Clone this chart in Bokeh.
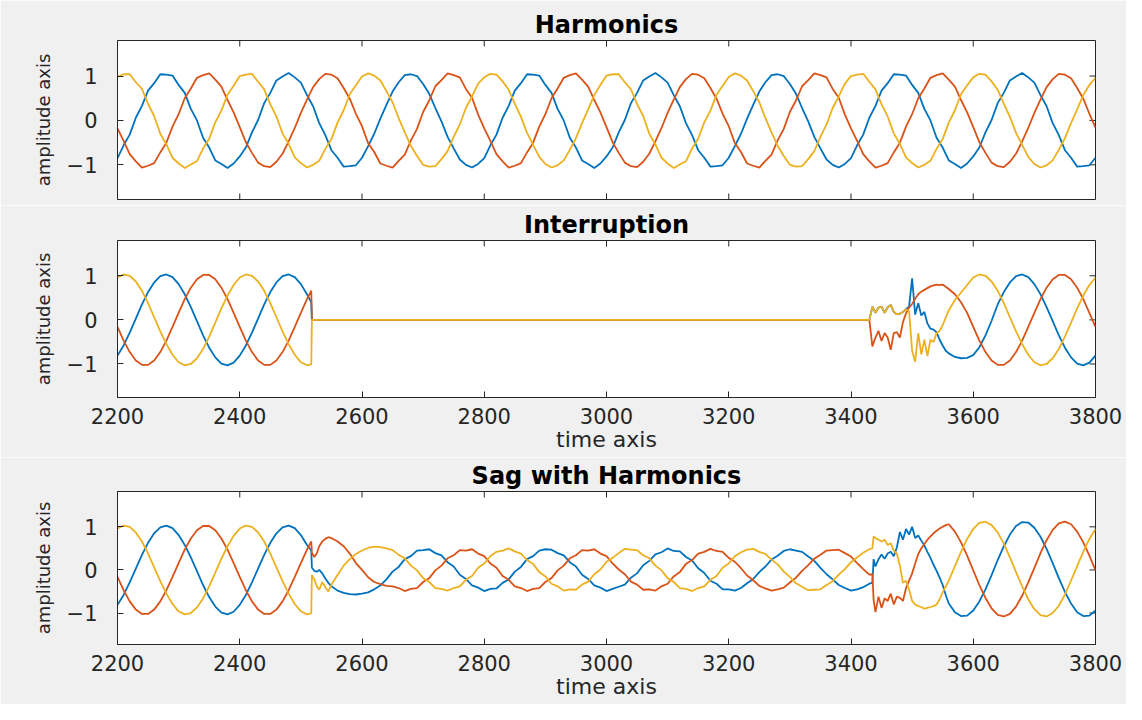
import math
from bokeh.plotting import figure
from bokeh.layouts import column
from bokeh.models import Range1d, FixedTicker
from bokeh.embed import file_html
from bokeh.resources import INLINE

# ---------------- data ----------------
x_ticks = [2200, 2400, 2600, 2800, 3000, 3200, 3400, 3600, 3800]
y_ticks = [-1, 0, 1]

# Panel 1: Harmonics (sampled every 10)
t_harm = list(range(2200, 3801, 10))
harm_blue = [
    -0.85, -0.56, -0.32, 0.06, 0.33, 0.67, 0.84, 1.04, 1.03, 1.01, 0.80, 0.62, 0.26, 0.00, -0.39, -0.61, -0.90, -0.98, -1.07, -0.97,
    -0.81, -0.61, -0.27, 0.01, 0.39, 0.62, 0.90, 0.99, 1.07, 0.97, 0.85, 0.57, 0.32, -0.06, -0.33, -0.67, -0.84, -1.04, -1.03, -1.01,
    -0.84, -0.58, -0.30, 0.04, 0.35, 0.65, 0.86, 1.02, 1.04, 1.00, 0.82, 0.60, 0.28, -0.02, -0.37, -0.63, -0.88, -1.00, -1.06, -0.98,
    -0.85, -0.56, -0.32, 0.06, 0.33, 0.67, 0.84, 1.04, 1.03, 1.01, 0.80, 0.62, 0.26, 0.00, -0.39, -0.61, -0.90, -0.98, -1.07, -0.97,
    -0.81, -0.61, -0.27, 0.01, 0.39, 0.62, 0.90, 0.99, 1.07, 0.97, 0.85, 0.57, 0.32, -0.06, -0.33, -0.67, -0.84, -1.04, -1.03, -1.01,
    -0.84, -0.58, -0.30, 0.04, 0.35, 0.65, 0.86, 1.02, 1.04, 1.00, 0.82, 0.60, 0.28, -0.02, -0.37, -0.63, -0.88, -1.00, -1.06, -0.98,
    -0.85, -0.56, -0.32, 0.06, 0.33, 0.67, 0.84, 1.04, 1.03, 1.01, 0.80, 0.62, 0.26, 0.00, -0.39, -0.61, -0.90, -0.98, -1.07, -0.97,
    -0.81, -0.61, -0.27, 0.01, 0.39, 0.62, 0.90, 0.99, 1.07, 0.97, 0.85, 0.57, 0.32, -0.06, -0.33, -0.67, -0.84, -1.04, -1.03, -1.01,
    -0.84,
]
harm_red = [
    -0.18, -0.46, -0.76, -0.92, -1.06, -1.02, -0.96, -0.72, -0.50, -0.14, 0.14, 0.50, 0.72, 0.96, 1.02, 1.06, 0.92, 0.76, 0.46, 0.18,
    -0.15, -0.49, -0.73, -0.95, -1.03, -1.05, -0.93, -0.75, -0.47, -0.17, 0.17, 0.47, 0.75, 0.93, 1.05, 1.03, 0.95, 0.73, 0.49, 0.15,
    -0.13, -0.51, -0.71, -0.97, -1.02, -1.06, -0.91, -0.77, -0.45, -0.19, 0.19, 0.45, 0.77, 0.91, 1.06, 1.02, 0.97, 0.71, 0.51, 0.13,
    -0.18, -0.46, -0.76, -0.92, -1.06, -1.02, -0.96, -0.72, -0.50, -0.14, 0.14, 0.50, 0.72, 0.96, 1.02, 1.06, 0.92, 0.76, 0.46, 0.18,
    -0.15, -0.49, -0.73, -0.95, -1.03, -1.05, -0.93, -0.75, -0.47, -0.17, 0.17, 0.47, 0.75, 0.93, 1.05, 1.03, 0.95, 0.73, 0.49, 0.15,
    -0.13, -0.51, -0.71, -0.97, -1.02, -1.06, -0.91, -0.77, -0.45, -0.19, 0.19, 0.45, 0.77, 0.91, 1.06, 1.02, 0.97, 0.71, 0.51, 0.13,
    -0.18, -0.46, -0.76, -0.92, -1.06, -1.02, -0.96, -0.72, -0.50, -0.14, 0.14, 0.50, 0.72, 0.96, 1.02, 1.06, 0.92, 0.76, 0.46, 0.18,
    -0.15, -0.49, -0.73, -0.95, -1.03, -1.05, -0.93, -0.75, -0.47, -0.17, 0.17, 0.47, 0.75, 0.93, 1.05, 1.03, 0.95, 0.73, 0.49, 0.15,
    -0.16,
]
harm_yellow = [
    0.98, 1.04, 1.04, 0.86, 0.71, 0.37, 0.10, -0.30, -0.54, -0.84, -0.97, -1.07, -0.99, -0.92, -0.63, -0.41, -0.04, 0.22, 0.58, 0.78,
    1.00, 1.03, 1.05, 0.87, 0.70, 0.36, 0.09, -0.29, -0.53, -0.83, -0.96, -1.06, -1.00, -0.91, -0.64, -0.42, -0.05, 0.23, 0.59, 0.79,
    0.99, 1.06, 1.01, 0.90, 0.66, 0.41, 0.05, -0.27, -0.57, -0.80, -1.00, -1.04, -1.03, -0.87, -0.69, -0.37, -0.09, 0.28, 0.54, 0.83,
    0.97, 1.05, 1.03, 0.88, 0.69, 0.38, 0.08, -0.28, -0.55, -0.82, -0.98, -1.06, -1.01, -0.90, -0.66, -0.40, -0.06, 0.25, 0.57, 0.80,
    1.01, 1.04, 1.04, 0.86, 0.70, 0.37, 0.10, -0.30, -0.54, -0.84, -0.97, -1.07, -0.99, -0.92, -0.63, -0.41, -0.04, 0.22, 0.58, 0.78,
    0.98, 1.06, 1.01, 0.90, 0.66, 0.41, 0.05, -0.27, -0.57, -0.80, -1.00, -1.04, -1.03, -0.87, -0.69, -0.37, -0.09, 0.28, 0.54, 0.83,
    1.00, 1.03, 1.05, 0.87, 0.70, 0.36, 0.09, -0.29, -0.53, -0.83, -0.96, -1.06, -1.00, -0.91, -0.64, -0.42, -0.05, 0.23, 0.59, 0.79,
    0.97, 1.05, 1.03, 0.88, 0.69, 0.38, 0.08, -0.28, -0.55, -0.82, -0.98, -1.06, -1.01, -0.90, -0.66, -0.40, -0.06, 0.25, 0.57, 0.80,
    0.96,
]

# Panel 2: Interruption
t_int = list(range(2200, 2511, 10)) + [2517, 2518, 3430] + list(range(3435, 3556, 5)) + list(range(3560, 3801, 10))
int_blue = [
    -0.81, -0.58, -0.29, 0.03, 0.35, 0.63, 0.85, 0.99, 1.03, 0.97, 0.81, 0.58, 0.29, -0.03, -0.35, -0.63, -0.85, -0.99, -1.03, -0.97,
    -0.81, -0.58, -0.29, 0.03, 0.35, 0.63, 0.85, 0.99, 1.03, 0.97, 0.81, 0.58,
    0.40, 0.0, 0.0,
    0.30, 0.16, 0.28, 0.30, 0.16, 0.28, 0.34, 0.18, 0.13, 0.14, 0.18, 0.24,
    0.30, 0.94, 0.12, 0.38, 0.10, 0.18, -0.08, -0.20, -0.22, -0.28, -0.45, -0.58, -0.70,
    -0.76, -0.84, -0.87, -0.86, -0.80, -0.62, -0.35, -0.02, 0.35, 0.63, 0.85, 0.99, 1.03, 0.97, 0.81, 0.58,
    0.29, -0.03, -0.35, -0.63, -0.85, -0.99, -1.03, -0.97, -0.81,
]
int_red = [
    -0.16, -0.47, -0.73, -0.92, -1.02, -1.02, -0.92, -0.73, -0.47, -0.16, 0.16, 0.47, 0.73, 0.92, 1.02, 1.02, 0.92, 0.73, 0.47, 0.16,
    -0.16, -0.47, -0.73, -0.92, -1.02, -1.02, -0.92, -0.73, -0.47, -0.16, 0.16, 0.47,
    0.66, 0.0, 0.0,
    -0.60, -0.40, -0.25, -0.48, -0.30, -0.40, -0.68, -0.30, -0.28, -0.40, -0.05, 0.15, 0.28,
    0.36, 0.48, 0.58, 0.64, 0.68, 0.72, 0.76, 0.78, 0.80, 0.79, 0.80, 0.75,
    0.70, 0.58, 0.40, 0.16, -0.16, -0.47, -0.73, -0.92, -1.02, -1.02, -0.92, -0.73, -0.47, -0.16, 0.16, 0.47,
    0.73, 0.92, 1.02, 1.02, 0.92, 0.73, 0.47, 0.16, -0.16,
]
int_yellow = [
    0.96, 1.03, 1.00, 0.87, 0.66, 0.38, 0.06, -0.26, -0.55, -0.79, -0.96, -1.03, -1.00, -0.87, -0.66, -0.38, -0.06, 0.26, 0.55, 0.79,
    0.96, 1.03, 1.00, 0.87, 0.66, 0.38, 0.06, -0.26, -0.55, -0.79, -0.96, -1.03,
    -1.01, 0.0, 0.0,
    0.30, 0.16, 0.28, 0.30, 0.16, 0.28, 0.34, 0.18, 0.13, 0.14, 0.18, 0.24, 0.20,
    -0.70, -0.95, -0.30, -0.78, -0.45, -0.82, -0.45, -0.50, -0.30, -0.25, -0.12, 0.05,
    0.22, 0.45, 0.62, 0.79, 0.96, 1.03, 1.00, 0.87, 0.66, 0.38, 0.06, -0.26, -0.55, -0.79, -0.96, -1.03,
    -1.00, -0.87, -0.66, -0.38, -0.06, 0.26, 0.55, 0.79, 0.96,
]

# Panel 3: Sag with Harmonics
t_sag = (list(range(2200, 2511, 10)) + [2517, 2518, 2522, 2526, 2530, 2535, 2540, 2545]
         + list(range(2550, 3431, 10)) + [3435, 3437] + list(range(3440, 3556, 5))
         + list(range(3560, 3801, 10)))
sag_blue = [
    -0.81, -0.58, -0.29, 0.03, 0.35, 0.63, 0.85, 0.99, 1.03, 0.97, 0.81, 0.58, 0.29, -0.03, -0.35, -0.63, -0.85, -0.99, -1.03, -0.97,
    -0.81, -0.58, -0.29, 0.03, 0.35, 0.63, 0.85, 0.99, 1.03, 0.97, 0.81, 0.58,
    0.45, 0.05, -0.02, -0.04, 0.00, -0.08, -0.20, -0.30,
    -0.38, -0.48, -0.53, -0.56, -0.57, -0.55, -0.52, -0.45, -0.36, -0.22,
    -0.04, 0.07, 0.25, 0.32, 0.45, 0.46, 0.48, 0.39, 0.34, 0.18, 0.08, -0.11, -0.21, -0.36, -0.41, -0.49, -0.44,
    -0.43, -0.30, -0.22, -0.04, 0.07, 0.25, 0.32, 0.45, 0.48, 0.47, 0.39, 0.34, 0.18, 0.08, -0.11, -0.21, -0.36, -0.41, -0.49, -0.44,
    -0.39, -0.34, -0.18, -0.08, 0.11, 0.21, 0.36, 0.41, 0.50, 0.44, 0.43, 0.30, 0.22, 0.04, -0.07, -0.25, -0.32, -0.45, -0.45, -0.48,
    -0.42, -0.31, -0.21, -0.05, 0.08, 0.24, 0.33, 0.44, 0.48, 0.45, 0.42, 0.31, 0.21, 0.05, -0.10, -0.22, -0.35, -0.42, -0.48, -0.45,
    -0.40, -0.32,
    -0.30, 0.25,
    0.08, 0.25, 0.36, 0.26, 0.38, 0.42, 0.32, 0.52, 0.88, 0.70, 0.95, 0.82, 1.00, 0.74, 0.80, 0.68, 0.57, 0.42, 0.28, 0.12,
    -0.02, -0.18, -0.35, -0.58,
    -0.78, -0.98, -1.07, -1.06, -0.94, -0.73, -0.45, -0.12, 0.23, 0.55, 0.82, 1.02, 1.11, 1.10, 0.98, 0.77, 0.49, 0.16, -0.19, -0.51,
    -0.78, -0.98, -1.07, -1.06, -0.94,
]
sag_red = [
    -0.16, -0.47, -0.73, -0.92, -1.02, -1.02, -0.92, -0.73, -0.47, -0.16, 0.16, 0.47, 0.73, 0.92, 1.02, 1.02, 0.92, 0.73, 0.47, 0.16,
    -0.16, -0.47, -0.73, -0.92, -1.02, -1.02, -0.92, -0.73, -0.47, -0.16, 0.16, 0.47,
    0.66, 0.40, 0.30, 0.38, 0.55, 0.66, 0.72, 0.76,
    0.74, 0.66, 0.55, 0.38, 0.16, 0.00, -0.17, -0.28, -0.33, -0.37,
    -0.38, -0.42, -0.49, -0.44, -0.42, -0.28, -0.19, -0.01, 0.10, 0.27, 0.34, 0.46, 0.45, 0.48, 0.38, 0.32, 0.15,
    0.05, -0.14, -0.23, -0.38, -0.42, -0.49, -0.44, -0.42, -0.28, -0.19, -0.01, 0.10, 0.27, 0.34, 0.46, 0.45, 0.48, 0.38, 0.32, 0.15,
    0.01, -0.10, -0.27, -0.34, -0.46, -0.45, -0.48, -0.38, -0.32, -0.15, -0.05, 0.14, 0.23, 0.38, 0.42, 0.49, 0.44, 0.42, 0.28, 0.19,
    0.04, -0.13, -0.24, -0.37, -0.43, -0.48, -0.45, -0.41, -0.29, -0.18, -0.02, 0.11, 0.26, 0.35, 0.45, 0.46, 0.47, 0.39, 0.31, 0.16,
    0.02, -0.11,
    -0.10, -0.70,
    -0.98, -0.62, -0.88, -0.66, -0.72, -0.55, -0.80, -0.62, -0.65, -0.72, -0.42, -0.25, -0.08, 0.15, 0.37, 0.50, 0.60, 0.70, 0.78, 0.85,
    0.91, 0.96, 1.00, 1.04,
    1.06, 0.89, 0.64, 0.33, -0.01, -0.35, -0.65, -0.89, -1.04, -1.08, -1.02, -0.85, -0.60, -0.29, 0.05, 0.39, 0.69, 0.93, 1.08, 1.12,
    1.06, 0.89, 0.64, 0.33, -0.01,
]
sag_yellow = [
    0.96, 1.03, 1.00, 0.87, 0.66, 0.38, 0.06, -0.26, -0.55, -0.79, -0.96, -1.03, -1.00, -0.87, -0.66, -0.38, -0.06, 0.26, 0.55, 0.79,
    0.96, 1.03, 1.00, 0.87, 0.66, 0.38, 0.06, -0.26, -0.55, -0.79, -0.96, -1.03,
    -1.01, -0.12, -0.22, -0.38, -0.46, -0.28, -0.40, -0.50,
    -0.34, -0.12, 0.10, 0.25, 0.37, 0.45, 0.51, 0.54, 0.53, 0.50,
    0.46, 0.35, 0.27, 0.10, -0.01, -0.19, -0.28, -0.42, -0.44, -0.48, -0.42, -0.38, -0.23, -0.14, 0.05, 0.15, 0.32,
    0.42, 0.45, 0.50, 0.43, 0.38, 0.23, 0.14, -0.05, -0.15, -0.32, -0.38, -0.48, -0.45, -0.46, -0.34, -0.27, -0.10, 0.01, 0.19, 0.28,
    0.39, 0.49, 0.47, 0.46, 0.34, 0.27, 0.10, -0.01, -0.19, -0.28, -0.42, -0.44, -0.49, -0.42, -0.38, -0.23, -0.14, 0.05, 0.15, 0.32,
    0.41, 0.47, 0.49, 0.42, 0.37, 0.24, 0.13, -0.04, -0.16, -0.31, -0.39, -0.47, -0.46, -0.45, -0.35, -0.26, -0.11, 0.02, 0.18, 0.29,
    0.40, 0.48,
    0.50, 0.78,
    0.74, 0.70, 0.66, 0.70, 0.58, 0.62, 0.45, 0.38, 0.10, -0.30, -0.25, -0.45, -0.72, -0.80, -0.84, -0.86, -0.90, -0.88, -0.86, -0.84,
    -0.80, -0.68, -0.52, -0.38,
    -0.25, 0.09, 0.42, 0.72, 0.95, 1.09, 1.12, 1.04, 0.87, 0.61, 0.29, -0.05, -0.38, -0.68, -0.91, -1.05, -1.08, -1.00, -0.83, -0.57,
    -0.25, 0.09, 0.42, 0.72, 0.95,
]

for t, series in ((t_harm, (harm_blue, harm_red, harm_yellow)),
                  (t_int, (int_blue, int_red, int_yellow)),
                  (t_sag, (sag_blue, sag_red, sag_yellow))):
    for s in series:
        assert len(s) == len(t), (len(s), len(t))

# ---------------- styling ----------------
BLUE, RED, YELLOW = "#0072BD", "#D95319", "#EDB120"
GRAY_BG = "#f0f0f0"
INK = "#262626"
FONT = "DejaVu Sans"
X0, X1 = 2200, 3800


def style_axis(ax):
    ax.major_tick_in = 6
    ax.major_tick_out = 0
    ax.minor_tick_line_color = None
    ax.axis_line_color = INK
    ax.major_tick_line_color = INK
    ax.major_label_text_font = FONT
    ax.major_label_text_color = INK
    ax.major_label_text_font_size = "21px"


def panel(title, t, blue, red, yellow, height, left, right, top, bottom, yr, xlabels, title_standoff):
    p = figure(width=1126, height=height, x_range=Range1d(X0, X1), y_range=Range1d(*yr),
               output_backend="svg", toolbar_location=None,
               min_border_left=left, min_border_right=right,
               min_border_top=top, min_border_bottom=bottom,
               title=title)
    p.border_fill_color = GRAY_BG
    p.background_fill_color = "white"
    p.outline_line_color = INK
    p.outline_line_width = 1
    p.xgrid.visible = False
    p.ygrid.visible = False

    p.title.text_font = FONT
    p.title.text_font_size = "24px"
    p.title.text_font_style = "bold"
    p.title.text_color = "#000000"
    p.title.align = "center"
    p.title.standoff = title_standoff

    p.yaxis.ticker = FixedTicker(ticks=y_ticks)
    style_axis(p.yaxis[0])
    p.yaxis.major_label_standoff = 20
    p.yaxis.axis_label = "amplitude axis"
    p.yaxis.axis_label_text_font = FONT
    p.yaxis.axis_label_text_font_size = "18px"
    p.yaxis.axis_label_text_font_style = "normal"
    p.yaxis.axis_label_text_color = INK
    p.yaxis.axis_label_standoff = 10

    if xlabels:
        p.xaxis.ticker = FixedTicker(ticks=x_ticks)
        style_axis(p.xaxis[0])
        p.xaxis.major_label_standoff = 10
        p.xaxis.axis_label = "time axis"
        p.xaxis.axis_label_text_font = FONT
        p.xaxis.axis_label_text_font_size = "22px"
        p.xaxis.axis_label_text_font_style = "normal"
        p.xaxis.axis_label_text_color = INK
        p.xaxis.axis_label_standoff = 0
    else:
        p.xaxis.visible = False
        # inward tick marks along the bottom edge
        p.scatter(x_ticks, [yr[0]] * len(x_ticks), marker="dash", angle=math.pi / 2,
                  size=12, line_color=INK, line_width=1)

    # inward tick marks on the top and right edges (box on, as in MATLAB)
    p.scatter(x_ticks, [yr[1]] * len(x_ticks), marker="dash", angle=math.pi / 2,
              size=12, line_color=INK, line_width=1)
    p.scatter([X1] * len(y_ticks), y_ticks, marker="dash",
              size=12, line_color=INK, line_width=1)

    p.line(t, blue, line_color=BLUE, line_width=1.8)
    p.line(t, red, line_color=RED, line_width=1.8)
    p.line(t, yellow, line_color=YELLOW, line_width=1.8)
    return p


p1 = panel("Harmonics", t_harm, harm_blue, harm_red, harm_yellow,
           height=205, left=117, right=28, top=40, bottom=6, yr=(-1.78, 1.8),
           xlabels=False, title_standoff=4)
p2 = panel("Interruption", t_int, int_blue, int_red, int_yellow,
           height=252, left=103, right=25, top=35, bottom=60, yr=(-1.76, 1.8),
           xlabels=True, title_standoff=4)
p3 = panel("Sag with Harmonics", t_sag, sag_blue, sag_red, sag_yellow,
           height=247, left=110, right=31, top=33, bottom=60, yr=(-1.73, 1.82),
           xlabels=True, title_standoff=4)

layout = column(p1, p2, p3, spacing=0)
open("out.html", "w").write(file_html(layout, INLINE))
